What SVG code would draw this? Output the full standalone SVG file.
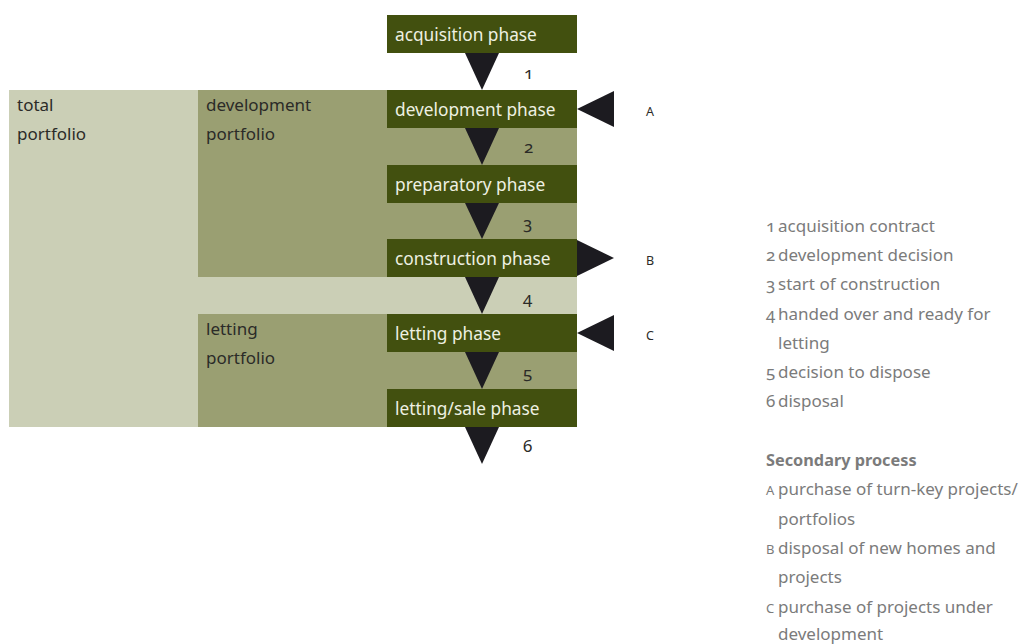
<svg xmlns="http://www.w3.org/2000/svg" width="1022" height="644" viewBox="0 0 1022 644">
  <style>
    text { font-family: "Noto Sans", "Open Sans", sans-serif; font-variant-numeric: oldstyle-nums; }
    .phase rect { fill: #42500f; }
    .phase text { fill: #eef0e2; font-size: 17.3px; }
    .port { font-size: 17px; fill: #2b2b28; }
    .tri { fill: #1c1b20; }
    .num { font-size: 17px; fill: #2b2b28; }
    .lab { font-size: 12.5px; fill: #2b2b28; }
    .legend { font-size: 17px; fill: #7b7b7b; }
    .legend .h { font-weight: bold; font-size: 16.3px; }
  </style>

  <!-- portfolio areas -->
  <g id="total-portfolio">
    <rect x="9" y="90" width="568" height="337" fill="#cbcfb6"/>
    <text class="port" x="17" y="111">total</text>
    <text class="port" x="17" y="140">portfolio</text>
  </g>
  <g id="development-portfolio">
    <rect x="198" y="90" width="379" height="187" fill="#9a9f72"/>
    <text class="port" x="206" y="111">development</text>
    <text class="port" x="206" y="140">portfolio</text>
  </g>
  <g id="letting-portfolio">
    <rect x="198" y="314" width="379" height="113" fill="#9a9f72"/>
    <text class="port" x="206" y="335">letting</text>
    <text class="port" x="206" y="364">portfolio</text>
  </g>

  <!-- phases -->
  <g id="acquisition-phase" class="phase">
    <rect x="387" y="15" width="190" height="38"/>
    <text x="395" y="41">acquisition phase</text>
  </g>
  <g id="development-phase" class="phase">
    <rect x="387" y="90" width="190" height="38"/>
    <text x="395" y="116">development phase</text>
  </g>
  <g id="preparatory-phase" class="phase">
    <rect x="387" y="165" width="190" height="38"/>
    <text x="395" y="191">preparatory phase</text>
  </g>
  <g id="construction-phase" class="phase">
    <rect x="387" y="239" width="190" height="38"/>
    <text x="395" y="265">construction phase</text>
  </g>
  <g id="letting-phase" class="phase">
    <rect x="387" y="314" width="190" height="38"/>
    <text x="395" y="340">letting phase</text>
  </g>
  <g id="letting-sale-phase" class="phase">
    <rect x="387" y="389" width="190" height="38"/>
    <text x="395" y="415">letting/sale phase</text>
  </g>

  <!-- transitions between phases and secondary in/out flows -->
  <g id="connectors">
    <polygon class="tri" points="465,53 499,53 482,90"/>
    <polygon class="tri" points="465,128 499,128 482,165"/>
    <polygon class="tri" points="465,203 499,203 482,239"/>
    <polygon class="tri" points="465,277 499,277 482,314"/>
    <polygon class="tri" points="465,352 499,352 482,389"/>
    <polygon class="tri" points="465,427 499,427 482,464"/>
    <polygon class="tri" points="614,91 614,127 577,109"/>
    <polygon class="tri" points="577,240 577,276 614,258"/>
    <polygon class="tri" points="614,315 614,351 577,333"/>
    <text class="num" x="524" y="79">1</text>
    <text class="num" x="524" y="153">2</text>
    <text class="num" x="523" y="229">3</text>
    <text class="num" x="523" y="304">4</text>
    <text class="num" x="523" y="379">5</text>
    <text class="num" x="523" y="452">6</text>
    <text class="lab" x="646" y="116">A</text>
    <text class="lab" x="646" y="265">B</text>
    <text class="lab" x="646" y="340">C</text>
  </g>

  <!-- key -->
  <g id="legend" class="legend">
    <text x="766" y="232">1<tspan x="778">acquisition contract</tspan></text>
    <text x="766" y="261">2<tspan x="778">development decision</tspan></text>
    <text x="766" y="290">3<tspan x="778">start of construction</tspan></text>
    <text x="766" y="320">4<tspan x="778">handed over and ready for</tspan></text>
    <text x="778" y="349">letting</text>
    <text x="766" y="378">5<tspan x="778">decision to dispose</tspan></text>
    <text x="766" y="407">6<tspan x="778">disposal</tspan></text>
    <text class="h" x="766" y="466">Secondary process</text>
    <text x="766" y="495"><tspan font-size="13">A</tspan><tspan x="778">purchase of turn-key projects/</tspan></text>
    <text x="778" y="525">portfolios</text>
    <text x="766" y="554"><tspan font-size="13">B</tspan><tspan x="778">disposal of new homes and</tspan></text>
    <text x="778" y="583">projects</text>
    <text x="766" y="613"><tspan font-size="13">C</tspan><tspan x="778">purchase of projects under</tspan></text>
    <text x="778" y="640">development</text>
  </g>
</svg>
